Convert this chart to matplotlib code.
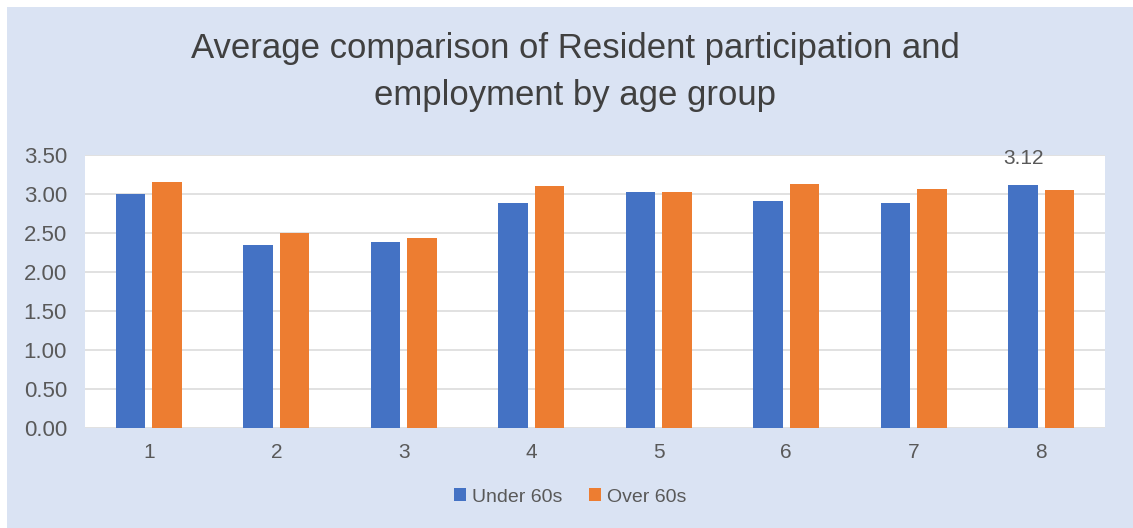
import numpy as np
import matplotlib
matplotlib.use("Agg")
import matplotlib.pyplot as plt
from matplotlib.patches import Rectangle

groups = ["1", "2", "3", "4", "5", "6", "7", "8"]
under_60 = [3.00, 2.35, 2.38, 2.88, 3.02, 2.91, 2.88, 3.12]
over_60 = [3.16, 2.50, 2.44, 3.10, 3.02, 3.13, 3.07, 3.05]
y_ticks = [0.0, 0.5, 1.0, 1.5, 2.0, 2.5, 3.0, 3.5]

BLUE = "#4472C4"
ORANGE = "#ED7D31"
PANEL = "#DAE3F3"
TEXT = "#595959"

plt.rcParams["font.family"] = ["Liberation Sans", "DejaVu Sans"]

fig = plt.figure(figsize=(11.33, 5.28), dpi=100, facecolor="white")
# light panel behind the whole chart
fig.patches.append(Rectangle((7 / 1133, 0), 1 - 7 / 1133, 1 - 7 / 528,
                             transform=fig.transFigure, facecolor=PANEL,
                             edgecolor="none", zorder=-5))

ax = fig.add_axes([85 / 1133, 1 - 428 / 528, 1020 / 1133, 273 / 528])
ax.set_zorder(1)
ax.set_facecolor("white")

x = np.arange(len(groups))
w = 0.23
off = 0.143
ax.bar(x - off, under_60, w, color=BLUE, label="Under 60s", zorder=3)
ax.bar(x + off, over_60, w, color=ORANGE, label="Over 60s", zorder=3)

# value label on the last blue bar
ax.text(x[-1] - off, under_60[-1] + 0.33, f"{under_60[-1]:.2f}",
        ha="center", va="center", fontsize=15, color=TEXT, clip_on=False)

ax.set_xlim(-0.5, len(groups) - 0.5)
ax.set_ylim(0, 3.5)
ax.set_yticks(y_ticks)
ax.set_yticklabels([f"{v:.2f}" for v in y_ticks])
ax.set_xticks(x)
ax.set_xticklabels(groups)
ax.tick_params(axis="both", length=0, labelsize=15, colors=TEXT)
ax.tick_params(axis="y", pad=13, labelsize=16)
ax.tick_params(axis="x", pad=11)
ax.grid(axis="y", color="#DCDCDC", linewidth=1.2, zorder=0)
for s in ax.spines.values():
    s.set_visible(False)

fig.text(575 / 1133, 1 - 72 / 528,
         "Average comparison of Resident participation and\nemployment by age group",
         ha="center", va="center", fontsize=25, color="#404040", linespacing=1.55)

fig.legend(loc="center", bbox_to_anchor=(570 / 1133, 1 - 497 / 528), ncol=2,
           frameon=False, fontsize=14, labelcolor=TEXT, handlelength=0.6,
           handleheight=0.6, handletextpad=0.3, columnspacing=1.4)

fig.savefig("out.png", dpi=100, facecolor=fig.get_facecolor())
